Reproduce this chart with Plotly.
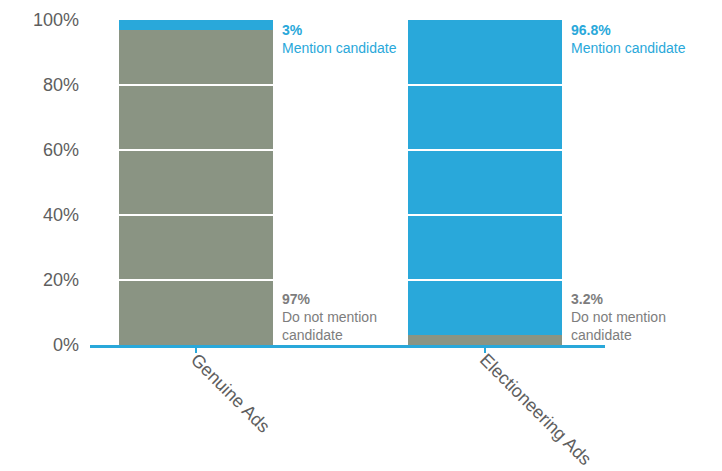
import plotly.graph_objects as go

categories = ["Genuine Ads", "Electioneering Ads"]
not_mention = [97, 3.2]
mention = [3, 96.8]
y_ticks = [0, 20, 40, 60, 80, 100]
grid_vals = [20, 40, 60, 80]

GRAY = "#8a9483"
BLUE = "#29a8da"
TXT = "#7d7d7d"
TICK = "#5e5e5e"
FONT = "Liberation Sans, Arial, sans-serif"
BW = 0.53

xs = list(range(len(categories)))

fig = go.Figure()
fig.add_trace(go.Bar(x=xs, y=not_mention, width=BW, marker=dict(color=GRAY, line=dict(width=0)),
                     name="Do not mention candidate", hoverinfo="skip"))
fig.add_trace(go.Bar(x=xs, y=mention, width=BW, marker=dict(color=BLUE, line=dict(width=0)),
                     name="Mention candidate", hoverinfo="skip"))

annotations = []
for i, (nm, m) in enumerate(zip(not_mention, mention)):
    xa = i + BW / 2 + 0.027
    annotations.append(dict(x=xa, y=100, xref="x", yref="y", xanchor="left", yanchor="top",
                            text=f"<b>{m:g}%</b><br>Mention candidate", showarrow=False, align="left",
                            font=dict(family=FONT, size=14, color=BLUE)))
    annotations.append(dict(x=xa, y=0, xref="x", yref="y", xanchor="left", yanchor="bottom",
                            text=f"<b>{nm:g}%</b><br>Do not mention<br>candidate", showarrow=False, align="left",
                            font=dict(family=FONT, size=14, color=TXT)))

shapes = [dict(type="line", xref="paper", yref="y", x0=0, x1=1, y0=v, y1=v,
               line=dict(color="white", width=2), layer="above") for v in grid_vals]

fig.update_layout(
    barmode="stack",
    width=714, height=463,
    margin=dict(l=82, r=117, t=12, b=126, autoexpand=False),
    paper_bgcolor="white", plot_bgcolor="white",
    showlegend=False,
    annotations=annotations,
    shapes=shapes,
    font=dict(family=FONT, color=TICK),
    xaxis=dict(range=[-0.367, 1.415], tickvals=xs, ticktext=categories, tickangle=45,
               showline=True, linecolor=BLUE, linewidth=3, ticks="outside", ticklen=5,
               tickcolor=BLUE, tickwidth=2, showgrid=False, zeroline=False, automargin=False,
               ticklabelstandoff=-11,
               tickfont=dict(family=FONT, size=18, color=TICK)),
    yaxis=dict(range=[0, 100], tickvals=y_ticks, ticktext=[f"{v}%" for v in y_ticks],
               showgrid=False, zeroline=False, showline=False, automargin=False,
               ticklabelstandoff=10,
               tickfont=dict(family=FONT, size=18, color=TICK)),
)

fig.write_html("out.html")
